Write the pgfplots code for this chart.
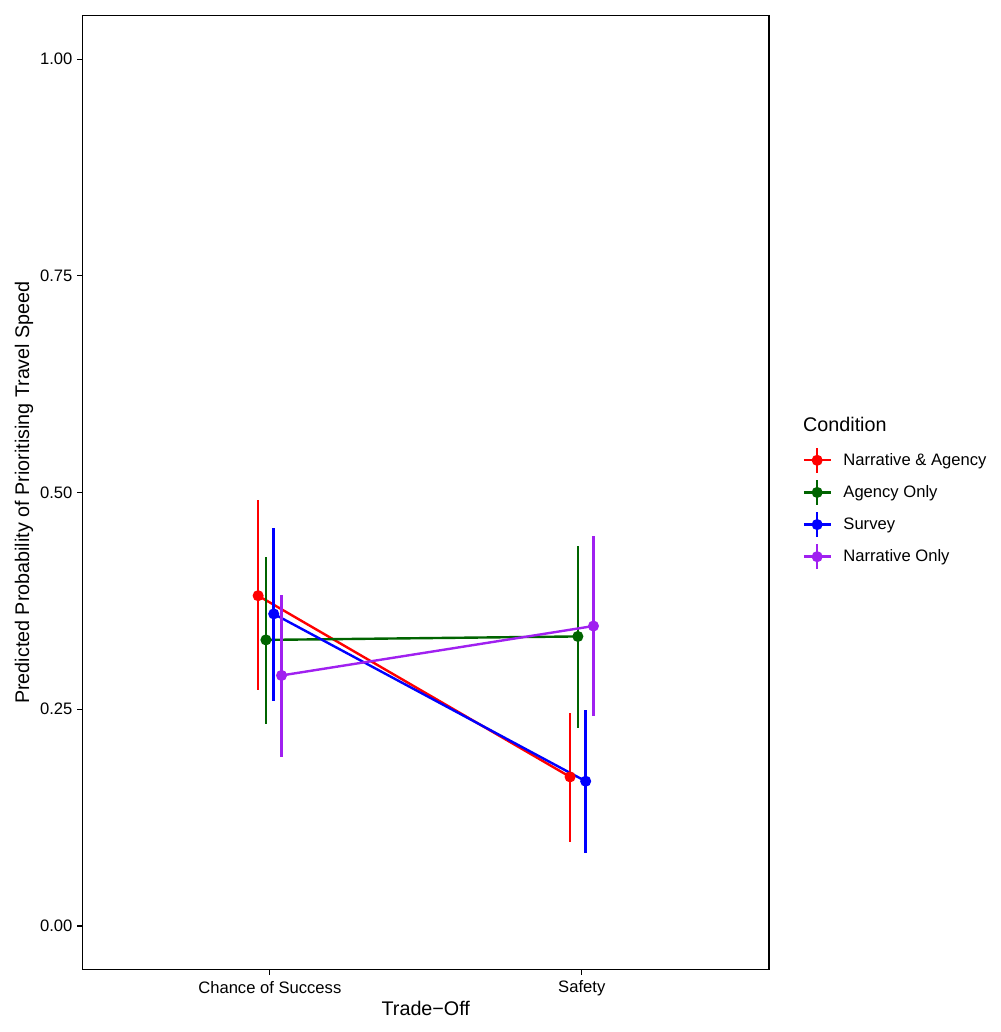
\documentclass[border=0pt]{standalone}
\usepackage{fontspec}
\setmainfont{Liberation Sans}
\usepackage{pgfplots}
\usepackage{pgfplotstable}
\pgfplotsset{compat=1.18}

\definecolor{cNA}{HTML}{FF0000}
\definecolor{cAO}{HTML}{006400}
\definecolor{cSV}{HTML}{0000FF}
\definecolor{cNO}{HTML}{A020F0}

% x = trade-off position (dodged), y = predicted probability, lo/hi = interval
\pgfplotstableread{
x y lo hi
0.9625 0.381 0.272 0.491
1.9625 0.172 0.097 0.246
}\narrag
\pgfplotstableread{
x y lo hi
0.9875 0.330 0.233 0.426
1.9875 0.334 0.228 0.438
}\agonly
\pgfplotstableread{
x y lo hi
1.0125 0.360 0.260 0.459
2.0125 0.167 0.084 0.249
}\survey
\pgfplotstableread{
x y lo hi
1.0375 0.289 0.195 0.382
2.0375 0.346 0.242 0.450
}\narronly

\begin{document}
\begin{tikzpicture}
\path[use as bounding box] (-62.0pt,-47.0pt) rectangle (688.0pt,727.0pt);
\begin{axis}[
  name=main,
  scale only axis,
  width=514.7pt, height=715.2pt,
  xmin=0.4, xmax=2.6, ymin=-0.05, ymax=1.05,
  xtick={1,2}, xticklabels={Chance of Success, Safety},
  ytick={0,0.25,0.5,0.75,1},
  yticklabel style={/pgf/number format/.cd, fixed, fixed zerofill, precision=2},
  /pgf/number format/assume math mode=true,
  xtick pos=bottom, ytick pos=left,
  tick align=outside, major tick length=4.2pt,
  axis line style={line width=1pt},
  every tick/.style={black, line width=0.8pt},
  tick label style={font=\fontsize{12.45}{14}\selectfont},
  xticklabel style={yshift=-1pt},
  label style={font=\fontsize{14.8}{17}\selectfont},
  xlabel={Trade\textminus Off},
  ylabel={Predicted Probability of Prioritising Travel Speed},
  xlabel style={at={(axis description cs:0.5,-0.0406)}, anchor=center},
  ylabel style={at={(axis description cs:-0.0855,0.5)}, anchor=center},
  legend image code/.code={
    \draw[line width=1.8pt] (0pt,0pt) -- (20pt,0pt);
    \draw[line width=1.8pt] (10pt,-9.4pt) -- (10pt,9.4pt);
    \fill (10pt,0pt) circle (3.2pt);
  },
  legend cell align=left,
  legend style={
    at={(axis description cs:1.0491,0.5482)}, anchor=north west,
    draw=none, fill=none, inner sep=0pt, outer sep=0pt,
    row sep=3.5pt, column sep=0pt,
    font=\fontsize{12.45}{14}\selectfont,
    nodes={inner sep=0pt, outer sep=0pt},
    /tikz/every odd column/.append style={column sep=8.8pt},
  },
  every axis plot/.append style={
    line width=1.8pt, mark=*, mark size=3.2pt,
    mark options={solid},
    error bars/y dir=both, error bars/y explicit, error bars/error mark=none,
    error bars/error bar style={line width=1.9pt, solid},
  },
]
\addplot[color=cNA] table[x=x, y=y,
  y error plus expr=\thisrow{hi}-\thisrow{y},
  y error minus expr=\thisrow{y}-\thisrow{lo}] {\narrag};
\addlegendentry{Narrative \& Agency}
\addplot[color=cAO] table[x=x, y=y,
  y error plus expr=\thisrow{hi}-\thisrow{y},
  y error minus expr=\thisrow{y}-\thisrow{lo}] {\agonly};
\addlegendentry{Agency Only}
\addplot[color=cSV] table[x=x, y=y,
  y error plus expr=\thisrow{hi}-\thisrow{y},
  y error minus expr=\thisrow{y}-\thisrow{lo}] {\survey};
\addlegendentry{Survey}
\addplot[color=cNO] table[x=x, y=y,
  y error plus expr=\thisrow{hi}-\thisrow{y},
  y error minus expr=\thisrow{y}-\thisrow{lo}] {\narronly};
\addlegendentry{Narrative Only}
\end{axis}
% legend title
\path (main.south west) ++(540.2pt,409.0pt)
  node[anchor=west, inner sep=0pt, font=\fontsize{14.8}{17}\selectfont] {Condition};
\end{tikzpicture}
\end{document}
